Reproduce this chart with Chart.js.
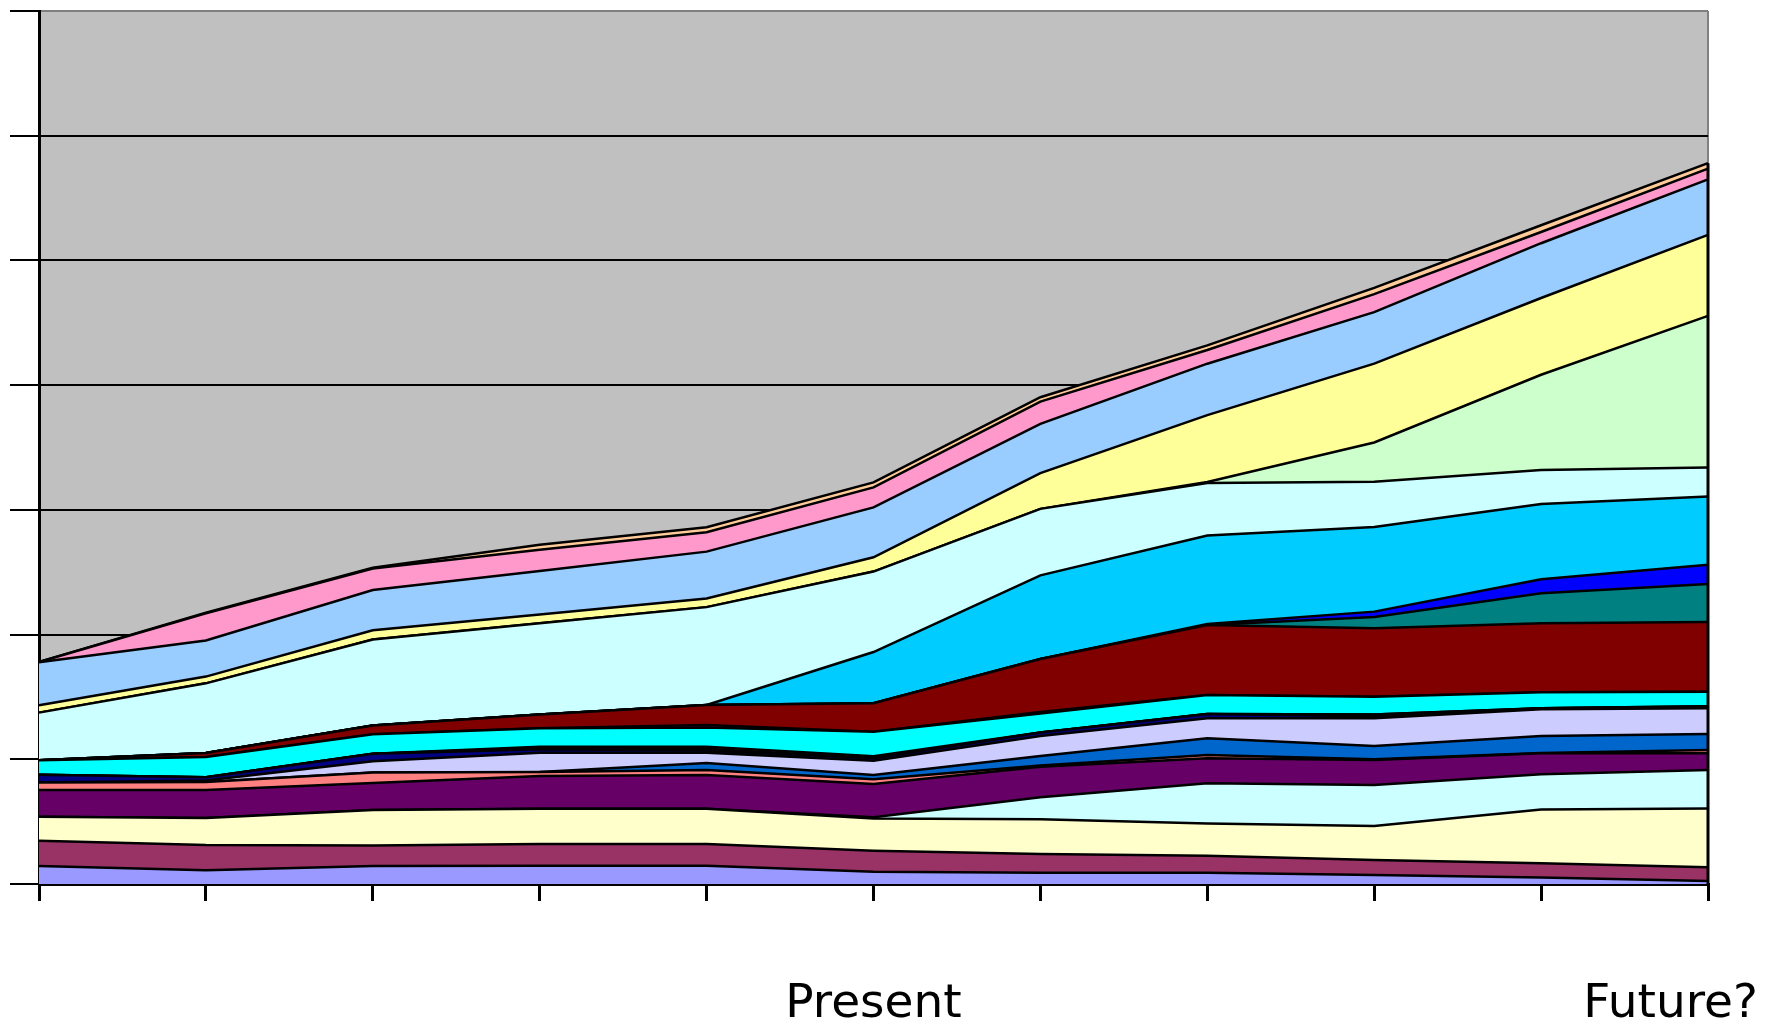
<!DOCTYPE html>
<html>
<head>
<meta charset="utf-8">
<script src="https://cdn.jsdelivr.net/npm/chart.js@4.4.1/dist/chart.umd.min.js"></script>
<style>
  html, body { margin: 0; padding: 0; background: #fff; }
  #wrap { width: 1765px; height: 1021px; }
</style>
</head>
<body>
<div id="wrap"><canvas id="chart" width="1765" height="1021"></canvas></div>
<script>
// x categories: only two of them carry a label (trailing spaces pull "Future?" left like the original)
const labels = ["", "", "", "", "", "Present", "", "", "", "", "Future?     "];

// y axis range (no tick labels shown, only the gridlines)
const yMin = 0;
const yMax = 700;
const yStep = 100;

// series, bottom of the stack first
const periwinkle  = [14.4, 11, 14.4, 14.7, 14.7, 9.9, 9.1, 9.1, 7.2, 5.3, 2.4];
const plum        = [20.3, 20.2, 16.4, 17.3, 17.3, 16.8, 14.9, 13.6, 12, 11.3, 11];
const ivory       = [19.3, 21.7, 28.5, 28.4, 28.4, 25.9, 28, 25.9, 27.3, 43.1, 47.2];
const lightTurq   = [0, 0, 0, 0, 0, 1, 17.5, 32.1, 32.9, 28.3, 30.8];
const darkPurple  = [21.4, 22.5, 21.7, 26.2, 27, 26.6, 24.6, 20.1, 20.1, 16.8, 13.4];
const coral       = [5.9, 6.3, 8.5, 3.2, 4, 3.7, 0.9, 2.7, 0.5, 0.2, 2.7];
const oceanBlue   = [0, 0, 0, 0, 5.6, 3.5, 7.6, 13.3, 10.7, 13.7, 12.8];
const iceBlue     = [0, 1.3, 9, 15.5, 8.3, 11.5, 16.1, 16.1, 22.2, 21.4, 20.7];
const navy        = [6.4, 2.6, 6, 2.7, 1.7, 1.9, 2.7, 3.5, 1.6, 0.9, 1];
const magenta     = [0, 0, 0, 1, 1.5, 0.2, 0.1, 0, 1.5, 0, 0.5];
const yellow      = [0, 0, 0, 1, 1.5, 1.4, 0, 0, 0, 0, 0];
const cyan        = [11.5, 16.3, 15.5, 14.8, 15.5, 19.7, 15.3, 15.2, 14.2, 12.7, 11.7];
const violet      = [0, 0, 0, 0, 2, 0, 1.2, 0, 0, 0, 0];
const maroon      = [0, 3.1, 7, 11.2, 16.1, 22.9, 42.4, 56.1, 54.8, 55.3, 55.8];
const teal        = [0, 0, 0, 0, 0, 0, 0, 0, 9, 24.2, 30.6];
const blue        = [0, 0, 0, 0, 0, 0, 0, 0.8, 4.4, 11.2, 15.4];
const skyBlue     = [0, 0, 0, 0, 0, 41, 67.1, 71, 67.9, 60.2, 54.8];
const paleCyan    = [38.2, 55.9, 69, 73, 78.4, 64.5, 53.3, 42.1, 36.2, 27.4, 23.2];
const paleGreen   = [0, 0, 0, 0, 0, 0, 0, 0.8, 31.5, 76.3, 121.5];
const lightYellow = [5.9, 5.4, 7.5, 7, 7, 11.5, 28.7, 53.6, 63.2, 61.6, 65];
const paleBlue    = [34.5, 28.9, 32.2, 35, 37.5, 40, 39.5, 41.2, 41.3, 43.9, 44.5];
const pink        = [0.2, 21.8, 17.3, 17, 15.5, 16, 17.8, 11, 14.5, 9, 8.6];
const tan         = [0, 0.5, 0.6, 4, 4, 4, 3.5, 3.7, 5, 5.4, 4.4];

const series = [
  ["periwinkle", periwinkle, "#9999FF"],
  ["plum", plum, "#993366"],
  ["ivory", ivory, "#FFFFCC"],
  ["lightTurq", lightTurq, "#CCFFFF"],
  ["darkPurple", darkPurple, "#660066"],
  ["coral", coral, "#FF8080"],
  ["oceanBlue", oceanBlue, "#0066CC"],
  ["iceBlue", iceBlue, "#CCCCFF"],
  ["navy", navy, "#000080"],
  ["magenta", magenta, "#FF00FF"],
  ["yellow", yellow, "#FFFF00"],
  ["cyan", cyan, "#00FFFF"],
  ["violet", violet, "#800080"],
  ["maroon", maroon, "#800000"],
  ["teal", teal, "#008080"],
  ["blue", blue, "#0000FF"],
  ["skyBlue", skyBlue, "#00CCFF"],
  ["paleCyan", paleCyan, "#CCFFFF"],
  ["paleGreen", paleGreen, "#CCFFCC"],
  ["lightYellow", lightYellow, "#FFFF99"],
  ["paleBlue", paleBlue, "#99CCFF"],
  ["pink", pink, "#FF99CC"],
  ["tan", tan, "#FFCC99"]
];

const datasets = series.map(([name, data, color], i) => ({
  label: name,
  data: data,
  backgroundColor: color,
  borderColor: "#000000",
  borderWidth: 2.5,
  pointRadius: 0,
  tension: 0,
  fill: i === 0 ? "origin" : "-1"
}));

// grey plot area like the old spreadsheet chart
const plotBackground = {
  id: "plotBackground",
  beforeDraw(chart) {
    const { ctx, chartArea: a } = chart;
    ctx.save();
    ctx.fillStyle = "#C0C0C0";
    ctx.fillRect(a.left, a.top, a.right - a.left, a.bottom - a.top);
    ctx.strokeStyle = "#808080";
    ctx.lineWidth = 2;
    ctx.beginPath();
    ctx.moveTo(a.right, a.top);
    ctx.lineTo(a.right, a.bottom);
    ctx.stroke();
    ctx.restore();
  },
  afterDatasetsDraw(chart) {
    // black closing edge of the stacked areas on the right side
    const { ctx, chartArea: a } = chart;
    const last = labels.length - 1;
    const total = series.reduce((s, d) => s + d[1][last], 0);
    const yTop = chart.scales.y.getPixelForValue(total);
    ctx.save();
    ctx.strokeStyle = "#000000";
    ctx.lineWidth = 3;
    ctx.beginPath();
    ctx.moveTo(a.right, yTop);
    ctx.lineTo(a.right, a.bottom);
    ctx.stroke();
    ctx.restore();
  }
};

new Chart(document.getElementById("chart"), {
  type: "line",
  data: { labels: labels, datasets: datasets },
  options: {
    responsive: false,
    animation: false,
    layout: { padding: { left: 10, right: 57, top: 11, bottom: 0 } },
    plugins: {
      legend: { display: false },
      tooltip: { enabled: false }
    },
    scales: {
      x: {
        offset: false,
        grid: {
          drawOnChartArea: false,
          drawTicks: true,
          tickLength: 17,
          tickColor: "#000000",
          lineWidth: 3
        },
        border: { display: true, color: "#000000", width: 3 },
        ticks: {
          autoSkip: false,
          maxRotation: 0,
          minRotation: 0,
          padding: 76,
          color: "#000000",
          font: { family: "DejaVu Sans", size: 47, lineHeight: 1.2 }
        },
        afterFit(scale) {
          scale.paddingLeft = 0;
          scale.paddingRight = 0;
          scale.height = 137;
        }
      },
      y: {
        stacked: true,
        min: yMin,
        max: yMax,
        grid: {
          color: (c) => (c.tick && c.tick.value === yMax ? "#808080" : "#000000"),
          lineWidth: 2,
          drawTicks: true,
          tickLength: 29,
          tickColor: "#000000"
        },
        border: { display: true, color: "#000000", width: 3 },
        ticks: { display: false, stepSize: yStep }
      }
    }
  },
  plugins: [plotBackground]
});
</script>
</body>
</html>
